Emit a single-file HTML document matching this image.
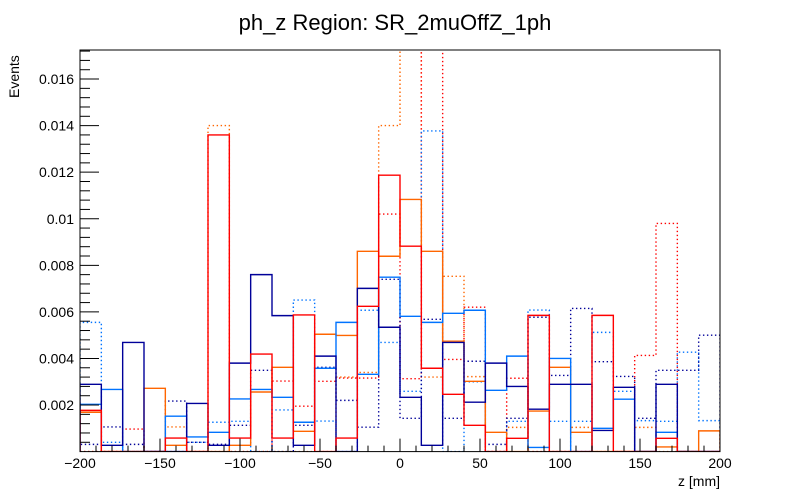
<!DOCTYPE html>
<html><head><meta charset="utf-8"><style>
body{margin:0;background:#fff;}
svg{display:block;font-family:"Liberation Sans",Arial,sans-serif;}
</style></head><body>
<svg id="c" width="800" height="500">
<text x="395" y="30" font-size="22" text-anchor="middle">ph_z Region: SR_2muOffZ_1ph</text>
<text transform="translate(19,98) rotate(-90)" font-size="14" text-anchor="start">Events</text>
<text x="720" y="486" font-size="14" text-anchor="end">z [mm]</text>
<defs><clipPath id="pc"><rect x="80" y="50" width="640" height="401.6"/></clipPath></defs>
<g id="series" clip-path="url(#pc)"></g>
<g id="axes"></g>
</svg>
<script>
const xMin=-200, xMax=200, nBins=30;
const yTicks=[0.002,0.004,0.006,0.008,0.01,0.012,0.014,0.016];
const yTickLabels=["0.002","0.004","0.006","0.008","0.01","0.012","0.014","0.016"];
const xTicks=[-200,-150,-100,-50,0,50,100,150,200];
const xTickLabels=["\u2212200","\u2212150","\u2212100","\u221250","0","50","100","150","200"];
// values in units of 1e-3 events
const navySolid=[2.89,0.27,4.69,0,0,2.07,0.27,3.8,7.6,5.84,0.27,4.1,0,7.01,5.34,2.33,0.27,4.69,2.12,3.8,2.8,1.82,2.89,2.89,0.91,2.76,0,2.89,0,0];
const azureSolid=[2.03,2.67,0,0,1.52,0.63,0.83,2.26,2.67,2.33,1.26,3.58,5.55,3.32,7.49,5.81,5.55,5.94,6.07,2.63,4.1,0.18,4.0,0,1.0,2.25,0,0.83,0,0];
const orangeSolid=[1.69,0,0,2.72,0.27,0,0,0.27,2.56,3.62,0.87,5.04,4.99,8.6,8.39,10.83,8.6,4.74,3.02,0.83,0,1.74,3.62,0.83,0,0,0,0.2,0,0.89];
const redSolid=[1.77,0,0,0,0.58,0,13.6,0.58,4.19,0.58,5.87,0,0.58,6.24,11.87,8.82,3.58,2.46,1.13,0,0.57,5.85,0,0,5.85,0,0,0.57,0,0];
const navyDotted=[0.31,1.06,0.31,0,2.17,0.4,0.31,1.13,3.49,0,1.13,3.62,2.2,1.05,7.4,1.43,5.68,1.43,3.88,0.31,1.43,5.77,3.27,6.15,3.86,3.23,1.43,3.49,3.49,5.0];
const azureDotted=[5.55,0.4,0,0,0,0.4,1.26,1.3,0,1.79,6.51,1.31,0,6.07,4.69,2.59,13.77,0,3.0,0,1.3,6.08,1.3,1.3,5.12,2.59,1.33,1.3,4.27,1.33];
const orangeDotted=[0,0,0,0,1.06,0,14.0,0,0,0,0,0,3.2,3.4,14.0,19.0,3.2,7.53,3.22,0,1.04,0,0,1.04,0,0,1.04,0,0,0];
const redDotted=[0,0,0.97,0,0,0,0,0,0,3.03,1.95,3.02,3.16,3.16,10.2,3.13,20.0,3.96,6.2,0,3.15,0,0,0,0,0,4.13,9.8,0,0];
const X0=80,X1=720,Ytop=50,Y0=451.6,pxPer=23.285; // px per 1e-3
const xs=v=>X0+(v-xMin)/(xMax-xMin)*(X1-X0);
const ys=v=>Y0-v*1000*pxPer;
const NS="http://www.w3.org/2000/svg";
const sg=document.getElementById('series'), ag=document.getElementById('axes');
function mk(t,a){const e=document.createElementNS(NS,t);for(const k in a)e.setAttribute(k,a[k]);return e;}
const series=[
 {d:orangeDotted,c:"#ff6600",dash:true,n:"orange-dotted-series"},
 {d:redDotted,c:"#ff0000",dash:true,n:"red-dotted-series"},
 {d:azureDotted,c:"#0073ff",dash:true,n:"azure-dotted-series"},
 {d:navyDotted,c:"#000099",dash:true,n:"navy-dotted-series"},
 {d:orangeSolid,c:"#ff6600",dash:false,n:"orange-solid-series"},
 {d:azureSolid,c:"#0073ff",dash:false,n:"azure-solid-series"},
 {d:navySolid,c:"#000099",dash:false,n:"navy-solid-series"},
 {d:redSolid,c:"#ff0000",dash:false,n:"red-solid-series"}];
const bw=(xMax-xMin)/nBins;
series.forEach(s=>{
 let p="M"+xs(xMin)+","+ys(0);
 s.d.forEach((v,i)=>{const a=xs(xMin+i*bw),b=xs(xMin+(i+1)*bw);p+=" L"+a+","+ys(v/1000)+" L"+b+","+ys(v/1000);});
 p+=" L"+xs(xMax)+","+ys(0);
 const e=mk('path',{d:p,fill:"none",stroke:s.c,"stroke-width":1.4});
 if(s.dash)e.setAttribute('stroke-dasharray','1.4 2.6');
 
 
 sg.appendChild(e);
});
// frame
const fr=mk('rect',{x:X0,y:Ytop,width:X1-X0,height:Y0-Ytop,fill:"none",stroke:"#000","stroke-width":1});


ag.appendChild(fr);
// y ticks
for(let v=0.0004;v<0.0173;v+=0.0004){
 const y=ys(v);const major=Math.abs(v/0.002-Math.round(v/0.002))<0.01;
 const t=mk('line',{x1:X0,x2:X0+(major?19:10),y1:y,y2:y,stroke:"#000"});
 
 
 ag.appendChild(t);
}
yTicks.forEach((v,i)=>{
 const t=mk('text',{x:X0-6,y:ys(v)+5,"font-size":14,"text-anchor":"end"});
 t.textContent=yTickLabels[i];
 
 
 ag.appendChild(t);
});
for(let v=-190;v<200;v+=10){
 const major=v%50===0;const x=xs(v);
 const t=mk('line',{x1:x,x2:x,y1:Y0,y2:Y0-(major?13:6),stroke:"#000"});
 
 
 ag.appendChild(t);
}
xTicks.forEach((v,i)=>{
 const t=mk('text',{x:xs(v),y:468,"font-size":14,"text-anchor":"middle"});
 t.textContent=xTickLabels[i];
 
 
 ag.appendChild(t);
});
</script>
</body></html>
